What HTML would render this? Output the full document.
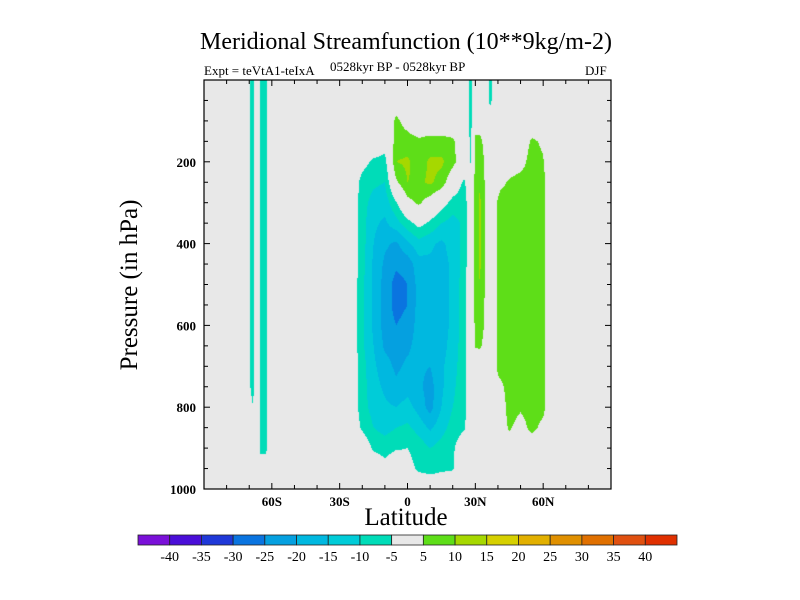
<!DOCTYPE html>
<html><head><meta charset="utf-8"><style>
body{margin:0;background:#fff;}
#wrap{position:relative;width:800px;height:600px;overflow:hidden;font-family:"Liberation Serif",serif;}
.t{position:absolute;white-space:nowrap;color:#000;}
</style></head><body>
<div id="wrap">
<div class="t" style="left:0;width:812px;text-align:center;top:29px;font-size:24px;">Meridional Streamfunction (10**9kg/m-2)</div>
<div class="t" style="left:204px;top:63px;font-size:13px;">Expt = teVtA1-teIxA</div>
<div class="t" style="left:330px;top:59px;font-size:13px;">0528kyr BP - 0528kyr BP</div>
<div class="t" style="left:585px;top:63px;font-size:13px;">DJF</div>
<div class="t" style="left:130px;top:285px;font-size:25px;transform:translate(-50%,-50%) rotate(-90deg);">Pressure (in hPa)</div>
<div class="t" style="left:0;width:812px;text-align:center;top:504px;font-size:25px;">Latitude</div>
<canvas id="cv" width="407" height="409" style="position:absolute;left:204px;top:80px;"></canvas>
<svg id="sv" width="800" height="600" style="position:absolute;left:0;top:0;"></svg>
</div>
<script>
const lats=[-90,-72,-68.5,-66,-65,-62.5,-61,-50,-25,-20,-15,-10,-5,0,5,10,15,20,25,28,30,32,35,36.5,39,41,45,50,55,60,63,90];
const pres=[0,50,100,150,200,250,300,350,400,450,500,550,600,650,700,750,800,850,900,950,1000];
const vals=[
[0,0,-7,0,-6,-6,0,0,0,0,0,0,0,0,0,0,0,0,0,-7,0,0,0,-7,0,0,0,0,0,0,0,0],
[0,0,-7,0,-6,-6,0,0,0,0,0,0,2,0,0,0,0,0,0,-7,0,0,0,-7,0,0,0,0,0,0,0,0],
[0,0,-7,0,-6,-6,0,0,0,0,0,0,6,3,0,0,0,0,0,-7,3,3,0,0,0,0,0,0,0,0,0,0],
[0,0,-7,0,-6,-6,0,0,0,0,0,-2,7,7,6,7,7,6,0,-6,6,6,3,0,0,0,0,0,6,4,0,0],
[0,0,-7,0,-6,-6,0,0,0,-3,-6,-7,10,11,7,11,11,7,0,-5.5,6,8,3,0,0,0,0,2,8,5.5,0,0],
[0,0,-7,0,-6,-6,0,0,0,-7,-9,-10,4,10,9,11,8,0,-6,0,7,9.5,3,0,0,3,6,8,8,7,0,0],
[0,0,-7,0,-6,-6,0,0,0,-8,-12,-13,-5.5,3,6,2,-2,-7,-8,0,7,11,3,0,4,8,8,8,8,7,0,0],
[0,0,-7,0,-6,-6,0,0,0,-8,-14,-16,-12,-7,-3,-6,-10,-12,-9,0,7,11,3,0,4,8,8,8,8,7,0,0],
[0,0,-7,0,-6,-6,0,0,0,-8,-15,-19,-21,-16,-12,-14,-16,-13,-8,0,7,11,3,0,4,8,8,8,8,7,0,0],
[0,0,-7,0,-6,-6,0,0,0,-8,-16,-21,-24,-23,-17,-16,-17,-14,-8,0,7,11,3,0,4,8,8,8,8,7,0,0],
[0,0,-7,0,-6,-6,0,0,0,-9,-16,-22,-27,-25,-18,-17,-17,-14,-7,0,7,10,3,0,4,8,8,8,8,7,0,0],
[0,0,-7,0,-6,-6,0,0,0,-9,-16,-22,-27,-25,-18,-17,-17,-14,-7,0,7,9,3,0,4,8,8,8,8,7,0,0],
[0,0,-7,0,-6,-6,0,0,0,-9,-16,-22,-25,-23,-18,-18,-17,-14,-7,0,6,8,3,0,4,8,8,8,8,7,0,0],
[0,0,-7,0,-6,-6,0,0,0,-9,-15,-21,-22,-21,-18,-19,-17,-13,-7,0,5.5,6,2,0,4,8,8,8,8,7,0,0],
[0,0,-7,0,-6,-6,0,0,0,-8,-14,-18,-21,-19,-19,-20,-16,-12,-7,0,0,0,0,0,4,8,8,8,8,7,0,0],
[0,0,-7,0,-6,-6,0,0,0,-8,-13,-16,-19,-17,-19,-22,-16,-11,-7,0,0,0,0,0,4,3,8,8,8,7,0,0],
[0,0,-4.5,0,-6,-6,0,0,0,-8,-12,-14,-15,-13,-17,-22,-15,-10,-7,0,0,0,0,0,4,0,8,6,8,7,0,0],
[0,0,0,0,-6,-6,0,0,0,-6,-10,-12,-10,-9,-12,-16,-12,-8,-6,0,0,0,0,0,4,0,6,2,7,3,0,0],
[0,0,0,0,-6,-6,0,0,0,0,-6,-7,-5.5,-5,-7,-10,-8,-6,0,0,0,0,0,0,0,0,0,0,0,0,0,0],
[0,0,0,0,-2.5,-2.5,0,0,0,0,0,-3,0,-3,-6,-7,-6,-5.5,0,0,0,0,0,0,0,0,0,0,0,0,0,0],
[0,0,0,0,0,0,0,0,0,0,0,0,0,0,0,0,0,0,0,0,0,0,0,0,0,0,0,0,0,0,0,0]];
const levels=[-40,-35,-30,-25,-20,-15,-10,-5,5,10,15,20,25,30,35,40];
const colors=["#7a10d8","#4a0ed8","#1f38d8","#0a74e0","#05a0e0","#00b8e0","#00ccd8","#00dcb8","#e8e8e8","#5ede18","#a6d800","#d6d000","#e2b000","#e09000","#e07000","#e05010","#e03000"];
const X0=204,X1=611,Y0=80,Y1=489;
function xs(lat){return X0+(lat+90)/180*(X1-X0);}
function ys(p){return Y0+p/1000*(Y1-Y0);}
function bin(v){let i=0;while(i<levels.length&&v>=levels[i])i++;return i;}
function seg(arr,v){for(let i=0;i<arr.length-1;i++){if(v<=arr[i+1])return i;}return arr.length-2;}
function interp(lat,p){const i=seg(lats,lat),j=seg(pres,p);
const tx=(lat-lats[i])/(lats[i+1]-lats[i]),ty=(p-pres[j])/(pres[j+1]-pres[j]);
const a=vals[j][i],b=vals[j][i+1],c=vals[j+1][i],d=vals[j+1][i+1];
return (a*(1-tx)+b*tx)*(1-ty)+(c*(1-tx)+d*tx)*ty;}
const cv=document.getElementById('cv'),ctx=cv.getContext('2d');
const W=cv.width,H=cv.height,img=ctx.createImageData(W,H);
const rgb=colors.map(h=>[parseInt(h.substr(1,2),16),parseInt(h.substr(3,2),16),parseInt(h.substr(5,2),16)]);
for(let y=0;y<H;y++){for(let x=0;x<W;x++){
const lat=-90+(x+0.5)/W*180,p=(y+0.5)/H*1000;
const c=rgb[bin(interp(lat,p))];const k=(y*W+x)*4;
img.data[k]=c[0];img.data[k+1]=c[1];img.data[k+2]=c[2];img.data[k+3]=255;}}
ctx.putImageData(img,0,0);
const sv=document.getElementById('sv');const NS="http://www.w3.org/2000/svg";
function mk(tag,at){const e=document.createElementNS(NS,tag);for(const k in at)e.setAttribute(k,at[k]);sv.appendChild(e);return e;}
const box=mk('rect',{x:X0,y:Y0,width:X1-X0,height:Y1-Y0,fill:'none',stroke:'#000','stroke-width':1.2});


const xTicks=[-60,-30,0,30,60];const xTickLabels=["60S","30S","0","30N","60N"];
for(let l=-80;l<=80;l+=10){const x=xs(l);const L=(l%30===0)?6:4;
mk('line',{x1:x,y1:Y1,x2:x,y2:Y1-L,stroke:'#000'});mk('line',{x1:x,y1:Y0,x2:x,y2:Y0+L,stroke:'#000'});}
xTicks.forEach((l,i)=>{const t=mk('text',{x:xs(l),y:Y1+17,'text-anchor':'middle','font-size':13,'font-weight':'bold','font-family':'Liberation Serif, serif'});t.textContent=xTickLabels[i];

});
const yTicks=[200,400,600,800,1000];
for(let p=50;p<1000;p+=50){const y=ys(p);const L=(p%200===0)?6:4;
mk('line',{x1:X0,y1:y,x2:X0+L,y2:y,stroke:'#000'});mk('line',{x1:X1,y1:y,x2:X1-L,y2:y,stroke:'#000'});}
yTicks.forEach(p=>{const t=mk('text',{x:X0-8,y:ys(p)+5,'text-anchor':'end','font-size':13,'font-weight':'bold','font-family':'Liberation Serif, serif'});t.textContent=String(p);

});
const CB0=138,CB1=677,CBY=535,CBH=10,bw=(CB1-CB0)/colors.length;
colors.forEach((c,i)=>{const r=mk('rect',{x:CB0+i*bw,y:CBY,width:bw,height:CBH,fill:c,stroke:'#222','stroke-width':0.8});

});
levels.forEach((v,i)=>{const t=mk('text',{x:CB0+(i+1)*bw,y:CBY+26,'text-anchor':'middle','font-size':14,'font-family':'Liberation Serif, serif'});t.textContent=String(v);

});
</script>
</body></html>
